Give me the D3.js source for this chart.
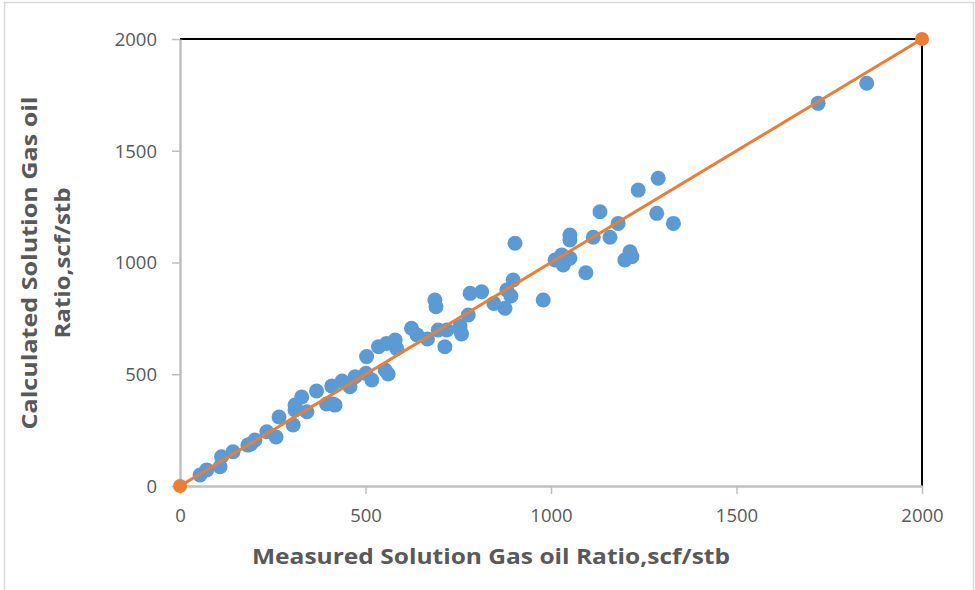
<!DOCTYPE html>
<html>
<head>
<meta charset="utf-8">
<script src="https://cdn.jsdelivr.net/npm/d3@7"></script>
<style>
  html, body { margin: 0; padding: 0; background: #fff; }
  svg { display: block; }
</style>
</head>
<body>
<svg id="chart" width="975" height="590"></svg>
<script>
// Measured vs calculated solution GOR (scf/stb)
const measured = [54, 72, 108, 112, 143, 183, 191, 202, 234, 259, 267, 305, 310, 310, 328, 342, 368, 395, 412, 418, 409, 437, 458, 472, 501, 517, 503, 535, 557, 580, 584, 553, 561, 624, 639, 667, 687, 690, 696, 719, 714, 755, 755, 759, 777, 782, 813, 846, 876, 881, 892, 898, 903, 979, 1011, 1029, 1033, 1051, 1051, 1051, 1094, 1114, 1132, 1159, 1181, 1199, 1213, 1218, 1235, 1285, 1289, 1330, 1720, 1851];
const calculated = [49, 72, 86, 131, 153, 183, 188, 206, 243, 219, 309, 273, 340, 362, 398, 332, 425, 367, 367, 362, 447, 470, 444, 489, 504, 474, 579, 623, 638, 653, 616, 519, 501, 706, 676, 658, 832, 802, 698, 698, 623, 698, 716, 680, 765, 862, 869, 817, 795, 877, 850, 922, 1086, 832, 1011, 1034, 989, 1019, 1123, 1101, 954, 1113, 1227, 1113, 1175, 1011, 1048, 1026, 1324, 1220, 1377, 1175, 1712, 1802];
const lineX = [0, 2000];
const lineY = [0, 2000];
const tickValues = [0, 500, 1000, 1500, 2000];
const xTitle = "Measured Solution Gas oil Ratio,scf/stb";
const yTitle = ["Calculated Solution Gas oil", "Ratio,scf/stb"];

const svg = d3.select("#chart");
const mL = 180, mR = 922, mT = 39, mB = 486;

svg.append("rect").attr("x", 4.5).attr("y", 2.5).attr("width", 969).attr("height", 600)
  .attr("fill", "#fff").attr("stroke", "#d9d9d9").attr("stroke-width", 1.5);

const x = d3.scaleLinear().domain([0, 2000]).range([mL, mR]);
const y = d3.scaleLinear().domain([0, 2000]).range([mB, mT]);

const font = "Open Sans, Noto Sans, sans-serif";
const gray = "#595959";
const axisGray = "#bfbfbf";

// top/right black frame
svg.append("line").attr("x1", mL).attr("x2", mR + 1).attr("y1", mT).attr("y2", mT)
  .attr("stroke", "#000").attr("stroke-width", 2);
svg.append("line").attr("x1", mR).attr("x2", mR).attr("y1", mT).attr("y2", mB)
  .attr("stroke", "#000").attr("stroke-width", 2);

// axes
const xAxis = svg.append("g").attr("transform", `translate(0,${mB})`)
  .call(d3.axisBottom(x).tickValues(tickValues).tickSize(8).tickPadding(12).tickSizeOuter(0).tickFormat(d3.format("d")));
const yAxis = svg.append("g").attr("transform", `translate(${mL},0)`)
  .call(d3.axisLeft(y).tickValues(tickValues).tickSize(8).tickPadding(15).tickSizeOuter(0).tickFormat(d3.format("d")));
[xAxis, yAxis].forEach(g => {
  g.select(".domain").attr("stroke", axisGray).attr("stroke-width", 2.5);
  g.selectAll(".tick line").attr("stroke", axisGray).attr("stroke-width", 1.5);
  g.selectAll(".tick text").attr("fill", gray).attr("font-family", font).attr("font-size", 18.5);
});
yAxis.selectAll(".tick text").attr("dy", "0.35em");
xAxis.selectAll(".tick text").attr("dy", "0.85em");

// data points
const pts = measured.map((m, i) => ({ m, c: calculated[i] }));
svg.append("g").selectAll("circle").data(pts).join("circle")
  .attr("cx", d => x(d.m)).attr("cy", d => y(d.c)).attr("r", 7.5)
  .attr("fill", "#5b9bd5");

// 1:1 line with end markers
const lineData = lineX.map((v, i) => ({ a: v, b: lineY[i] }));
svg.append("path").datum(lineData)
  .attr("d", d3.line().x(d => x(d.a)).y(d => y(d.b)))
  .attr("stroke", "#ed7d31").attr("stroke-width", 3).attr("fill", "none");
svg.append("g").selectAll("circle").data(lineData).join("circle")
  .attr("cx", d => x(d.a)).attr("cy", d => y(d.b)).attr("r", 7)
  .attr("fill", "#ed7d31");

// titles
svg.append("text").attr("x", 491).attr("y", 564).attr("text-anchor", "middle")
  .attr("font-family", font).attr("font-weight", "bold").attr("font-size", 22)
  .attr("fill", gray).attr("textLength", 478).attr("lengthAdjust", "spacingAndGlyphs")
  .text(xTitle);
const yt = svg.append("text").attr("transform", "translate(0,263) rotate(-90)")
  .attr("text-anchor", "middle").attr("font-family", font).attr("font-weight", "bold")
  .attr("font-size", 22).attr("fill", gray);
yt.append("tspan").attr("x", 0).attr("y", 37).attr("textLength", 333).attr("lengthAdjust", "spacingAndGlyphs").text(yTitle[0]);
yt.append("tspan").attr("x", 0).attr("y", 70).attr("textLength", 151).attr("lengthAdjust", "spacingAndGlyphs").text(yTitle[1]);
</script>
</body>
</html>
